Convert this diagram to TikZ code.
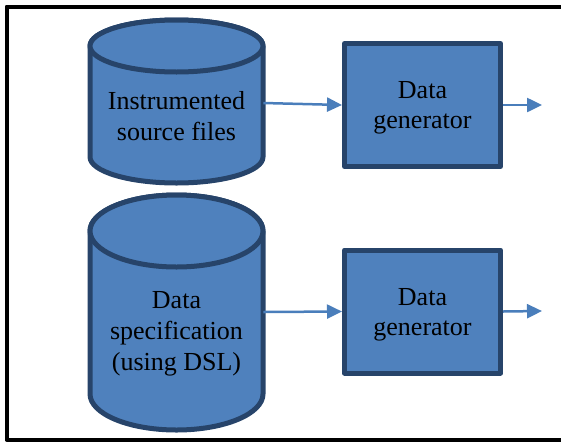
\documentclass[tikz,border=0pt]{standalone}
\usepackage{fontspec}
\setmainfont{Liberation Serif}
\usetikzlibrary{arrows.meta}
\definecolor{dbfill}{HTML}{4F81BD}
\definecolor{dbline}{HTML}{27446A}
\definecolor{arrblue}{HTML}{4A7EBB}
\begin{document}
\begin{tikzpicture}[x=0.5pt,y=0.5pt,line join=round,
  db/.style={fill=dbfill,draw=dbline,line width=2.5pt},
  gen/.style={db,minimum width=78pt,minimum height=61.5pt,align=center,inner sep=0pt,text depth=-1pt,font=\fontsize{13}{15}\selectfont},
  dbtext/.style={align=center,inner sep=0pt,minimum width=86.5pt,font=\fontsize{13}{15.5}\selectfont},
  arr/.style={draw=arrblue,line width=1.25pt,-{Triangle[length=7.5pt,width=7pt]}}]
\useasboundingbox (0,0) rectangle (561,441);
\clip (0,0) rectangle (561,441);
\draw[line width=2pt] (6.5,1.5) rectangle (600,434.5);
\draw[db] (263,395) -- (263,284) arc[start angle=0,end angle=-180,x radius=43.25pt,y radius=13pt]
  -- (90,395) arc[start angle=180,end angle=0,x radius=43.25pt,y radius=13pt] -- cycle;
\draw[db] (176.5,395) ellipse[x radius=43.25pt,y radius=13pt];
\draw[db] (263,210) -- (263,47) arc[start angle=0,end angle=-180,x radius=43.25pt,y radius=18pt]
  -- (90,210) arc[start angle=180,end angle=0,x radius=43.25pt,y radius=18pt] -- cycle;
\draw[db] (176.5,210) ellipse[x radius=43.25pt,y radius=18pt];
\node[dbtext] (icyl) at (176.5,325) {Instrumented\\source files};
\node[dbtext] (dcyl) at (176.5,107) {Data\\specification\\(using DSL)};
\node[gen] (gen1) at (422.5,336) {Data\\generator};
\node[gen] (gen2) at (422.5,129.5) {Data\\generator};
\coordinate (out1) at (542,336);
\coordinate (out2) at (542,130);
\draw[arr] ([yshift=6.5pt]icyl.east) -- (gen1.west);
\draw[arr] ([yshift=11pt]dcyl.east) -- (gen2.west);
\draw[arr] (gen1.east) -- (out1);
\draw[arr] (gen2.east) -- (out2);
\end{tikzpicture}
\end{document}
